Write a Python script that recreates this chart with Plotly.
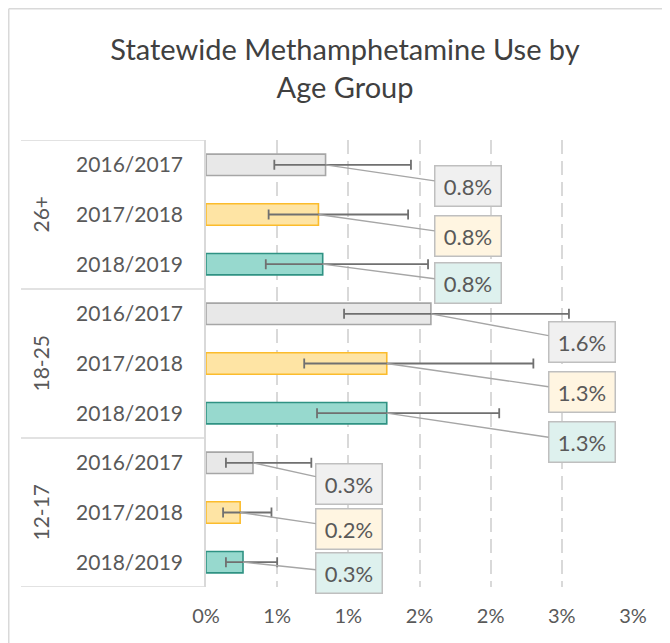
import plotly.graph_objects as go

# ---------------- data ----------------
AGE_GROUPS = ["26+", "18-25", "12-17"]
PERIODS = ["2016/2017", "2017/2018", "2018/2019"]

# estimated % of population (per age group, in AGE_GROUPS order)
USE_2016_17 = [0.84, 1.58, 0.33]
USE_2017_18 = [0.79, 1.27, 0.24]
USE_2018_19 = [0.82, 1.27, 0.26]

# 95% confidence interval bounds
CI_LOW_2016_17 = [0.48, 0.97, 0.14]
CI_LOW_2017_18 = [0.44, 0.69, 0.12]
CI_LOW_2018_19 = [0.42, 0.78, 0.14]
CI_HIGH_2016_17 = [1.44, 2.55, 0.74]
CI_HIGH_2017_18 = [1.42, 2.30, 0.46]
CI_HIGH_2018_19 = [1.56, 2.06, 0.50]

X_TICK_VALUES = [0, 0.5, 1.0, 1.5, 2.0, 2.5, 3.0]
X_TICK_LABELS = ["0%", "1%", "1%", "2%", "2%", "3%", "3%"]

USE = [USE_2016_17, USE_2017_18, USE_2018_19]
CI_LOW = [CI_LOW_2016_17, CI_LOW_2017_18, CI_LOW_2018_19]
CI_HIGH = [CI_HIGH_2016_17, CI_HIGH_2017_18, CI_HIGH_2018_19]

# ---------------- styles / layout ----------------
OFF = 8  # page body margin
W, H = 670 - OFF, 643 - OFF
ML, MR, MT, MB = 206 - OFF, 37, 140 - OFF, 56
PW, PH = W - ML - MR, H - MT - MB

FONT = "Lato"
TXT = "#595959"
FILL = ["#e8e8e8", "#fee4a4", "#97d9ce"]
EDGE = ["#a6a6a6", "#fbbc2c", "#2f9283"]
BOXFILL = ["#f0f0f0", "#fff5e1", "#def1ee"]
GRID = "#d9d9d9"

# label callout placement (layout choice): x center in axis units per group, y offset px
LABEL_X = [1.84, 2.64, 1.005]
LABEL_DY = [[21, 21, 19], [28, 28, 29], [21, 16, 11]]


def px_to_paper_x(px):
    """reference page px -> paper x"""
    return (px - OFF - ML) / PW


def px_to_paper_y(py):
    """reference page px -> paper y"""
    return 1 - (py - OFF - MT) / PH


n_groups = len(AGE_GROUPS)
n_per = len(PERIODS)

fig = go.Figure()
for k, period in enumerate(PERIODS):
    rows = [n_per * g + k for g in range(n_groups)]
    vals = USE[k]
    fig.add_trace(go.Bar(
        y=rows, x=vals, orientation="h", width=0.43, name=period,
        marker=dict(color=FILL[k], line=dict(color=EDGE[k], width=1.6)),
        error_x=dict(type="data", symmetric=False,
                     array=[h - v for h, v in zip(CI_HIGH[k], vals)],
                     arrayminus=[v - lo for v, lo in zip(vals, CI_LOW[k])],
                     color="#707070", thickness=1.8, width=5),
        hoverinfo="skip", showlegend=False,
    ))

annotations = []
for g in range(n_groups):
    for k in range(n_per):
        v = USE[k][g]
        annotations.append(dict(
            x=v, y=n_per * g + k, xref="x", yref="y",
            axref="x", ax=LABEL_X[g], ayref="pixel", ay=LABEL_DY[g][k],
            text=f"{v:.1f}%", showarrow=True, arrowhead=0, arrowwidth=1.4,
            arrowcolor="#a6a6a6", standoff=0,
            font=dict(family=FONT, size=22, color=TXT),
            bgcolor=BOXFILL[k], bordercolor="#bfbfbf", borderwidth=1.5,
            width=63, height=37,
        ))
    annotations.append(dict(
        x=px_to_paper_x(40), xref="paper", xanchor="center",
        y=n_per * g + (n_per - 1) / 2, yref="y", yanchor="middle",
        text=AGE_GROUPS[g], textangle=-90, showarrow=False,
        font=dict(family=FONT, size=21, color=TXT),
    ))

# row tick labels
tickvals = [n_per * g + k for g in range(n_groups) for k in range(n_per)]
ticktext = [PERIODS[k] for g in range(n_groups) for k in range(n_per)]

shapes = []
# group separators in category area
for g in range(n_groups + 1):
    yb = n_per * g - 0.5
    shapes.append(dict(type="line", xref="paper", yref="y",
                       x0=px_to_paper_x(21), x1=0, y0=yb, y1=yb,
                       line=dict(color=GRID, width=1.5)))
# chart frame (top & left edges)
fx = px_to_paper_x(OFF + 0.75)
fy = px_to_paper_y(OFF + 0.75)
shapes.append(dict(type="line", xref="paper", yref="paper",
                   x0=fx, x1=px_to_paper_x(680), y0=fy, y1=fy,
                   line=dict(color=GRID, width=1.5)))
shapes.append(dict(type="line", xref="paper", yref="paper",
                   x0=fx, x1=fx, y0=fy, y1=px_to_paper_y(660),
                   line=dict(color=GRID, width=1.5)))

fig.update_layout(
    width=W, height=H,
    margin=dict(l=ML, r=MR, t=MT, b=MB),
    paper_bgcolor="white", plot_bgcolor="white",
    barmode="overlay",
    title=dict(text="Statewide Methamphetamine Use by<br>Age Group",
               x=(345 - OFF) / W, xref="container", xanchor="center",
               y=1 - 52 / H, yref="container", yanchor="top",
               font=dict(family=FONT, size=29, color="#404040")),
    xaxis=dict(range=[0, 3], tickvals=X_TICK_VALUES, ticktext=X_TICK_LABELS,
               showgrid=True, gridcolor=GRID, gridwidth=1.5, griddash="14px,7px",
               zeroline=False, showline=False,
               ticks="outside", ticklen=11, tickcolor="rgba(0,0,0,0)",
               tickfont=dict(family=FONT, size=20, color=TXT)),
    yaxis=dict(range=[len(tickvals) - 0.5, -0.5], tickvals=tickvals, ticktext=ticktext,
               showgrid=False, zeroline=False, showline=True, linecolor=GRID, linewidth=1.5,
               ticks="outside", ticklen=17, tickcolor="rgba(0,0,0,0)",
               tickfont=dict(family=FONT, size=21, color=TXT)),
    annotations=annotations, shapes=shapes,
)

fig.write_html("out.html")
